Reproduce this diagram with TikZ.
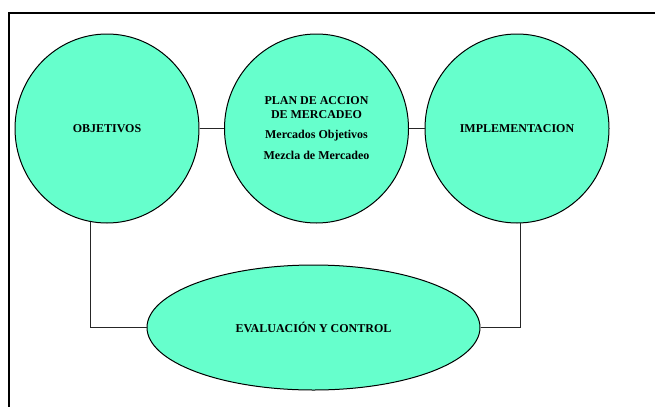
\documentclass[tikz,border=0pt]{standalone}
\usepackage{fontspec}
\setmainfont{Liberation Serif}
\usetikzlibrary{shapes.geometric}
\definecolor{aqua}{RGB}{102,255,204}
\begin{document}
\begin{tikzpicture}[x=1pt,y=-1pt,
  bubble/.style={ellipse,draw=black,line width=1pt,fill=aqua,inner sep=0pt,
    minimum width=184pt,minimum height=189pt,
    font=\fontsize{12}{13.7}\selectfont\bfseries,align=center},
  link/.style={draw=black!85,line width=0.9pt}]
\useasboundingbox (0,0) rectangle (655,407);
% open frame: top and left edges only
\draw[line width=2pt,black] (655,12.5) -- (8.5,12.5) -- (8.5,407);
% the three stages
\node[bubble] (obj) at (107,128.5) {OBJETIVOS};
\node[bubble] (plan) at (316.5,128.5) {PLAN DE ACCION\\DE MERCADEO\\[6pt]Mercados Objetivos\\[8pt]Mezcla de Mercadeo};
\node[bubble] (impl) at (517,128.5) {IMPLEMENTACION};
% feedback stage
\node[bubble,minimum width=333pt,minimum height=125pt] (ev) at (313.5,327.5) {EVALUACIÓN Y CONTROL};
% connectors
\draw[link] (obj) -- (plan);
\draw[link] (plan) -- (impl);
\draw[link] (obj.260) |- (ev.west);
\draw[link] (impl.272.5) |- (ev.east);
\end{tikzpicture}
\end{document}
